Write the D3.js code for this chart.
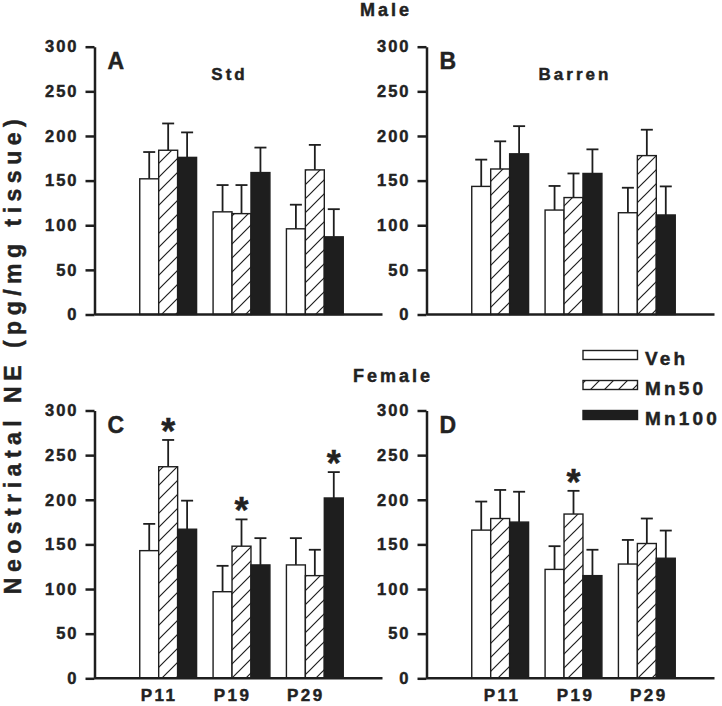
<!DOCTYPE html>
<html><head><meta charset="utf-8">
<script src="https://cdn.jsdelivr.net/npm/d3@7"></script>
<style>
body{margin:0;background:#fff}
svg{display:block}
text{font-family:"Liberation Sans",Arial,Helvetica,sans-serif;font-weight:bold;fill:#222;stroke:#222;stroke-width:0.45px}
</style>
</head><body><svg id="c" width="722" height="706"></svg>
<script>
// ---------- data ----------
const categories = ["P11", "P19", "P29"];
const series = ["Veh", "Mn50", "Mn100"];
const yTicks = [0, 50, 100, 150, 200, 250, 300];
// values ordered P11(Veh,Mn50,Mn100), P19(...), P29(...)
const meanA = [152, 184, 176, 115, 113, 159, 96, 162, 87];
const errA  = [30, 30, 28, 30, 32, 28, 27, 28, 31];
const meanB = [143.5, 163, 180, 117, 131, 158, 114, 178, 111.5];
const errB  = [30, 31, 31, 27, 27, 27, 28, 29, 32];
const meanC = [143, 237, 167, 97, 148, 127, 127, 115, 202];
const errC  = [30, 30, 32, 29, 30, 30, 30, 29, 29];
const meanD = [166, 179, 175, 122, 184, 115, 128, 151, 134.5];
const errD  = [32, 32, 34, 26, 26, 29, 27, 28, 31];
const stars = [
  {panel: "C", category: "P11", series: "Mn50"},
  {panel: "C", category: "P19", series: "Mn50"},
  {panel: "C", category: "P29", series: "Mn100"},
  {panel: "D", category: "P19", series: "Mn50"}
];
const panelLetters = ["A", "B", "C", "D"];
const subtitles = ["Std", "Barren", "", ""];
const sexTitles = ["Male", "Female"];
const yLabel = "Neostriatal NE (pg/mg tissue)";

// ---------- layout ----------
const svg = d3.select("#c");
const ink = "#1e1e1e";
const defs = svg.append("defs");
const pat = defs.append("pattern").attr("id", "hatch").attr("patternUnits", "userSpaceOnUse")
  .attr("width", 14).attr("height", 14);
pat.append("rect").attr("width", 14).attr("height", 14).attr("fill", "#fff");
pat.append("path").attr("d", "M-3.5,3.5L3.5,-3.5M0,14L14,0M10.5,17.5L17.5,10.5")
  .attr("stroke", ink).attr("stroke-width", 1.2);

const fills = {Veh: "#fff", Mn50: "url(#hatch)", Mn100: ink};
const panels = [
  {id: "A", x0: 94.5, y0: 314.5, mean: meanA, err: errA, subX: 229.5, labels: false, labDx: 0},
  {id: "B", x0: 426.5, y0: 314.5, mean: meanB, err: errB, subX: 575, labels: false, labDx: 0},
  {id: "C", x0: 94.5, y0: 678.3, mean: meanC, err: errC, subX: 0, labels: true, labDx: -9},
  {id: "D", x0: 426.5, y0: 678.3, mean: meanD, err: errD, subX: 0, labels: true, labDx: 2}
];
const plotW = 288, plotH = 267.8;

panels.forEach((p, k) => {
  const g = svg.append("g");
  const y = d3.scaleLinear().domain([0, 300]).range([p.y0, p.y0 - plotH]);
  const x = d3.scaleBand().domain(categories).range([p.x0 + 37, p.x0 + 257])
    .paddingInner(0.225).paddingOuter(0.1125);
  const xs = d3.scaleBand().domain(series).range([0, x.bandwidth()]);

  const data = [];
  categories.forEach((c, i) => series.forEach((s, j) => {
    data.push({c, s, v: p.mean[i * 3 + j], e: p.err[i * 3 + j]});
  }));
  // error bars (upward only)
  const eb = g.append("g").attr("stroke", ink).attr("stroke-width", 1.8);
  data.forEach(d => {
    const cx = x(d.c) + xs(d.s) + xs.bandwidth() / 2;
    eb.append("line").attr("x1", cx).attr("x2", cx).attr("y1", y(d.v)).attr("y2", y(d.v + d.e));
    eb.append("line").attr("x1", cx - 6).attr("x2", cx + 6).attr("y1", y(d.v + d.e)).attr("y2", y(d.v + d.e));
  });
  g.append("g").selectAll("rect").data(data).join("rect")
    .attr("x", d => x(d.c) + xs(d.s))
    .attr("y", d => y(d.v))
    .attr("width", xs.bandwidth())
    .attr("height", d => y(0) - y(d.v))
    .attr("fill", d => fills[d.s])
    .attr("stroke", ink).attr("stroke-width", 1.4);

  // stars
  stars.filter(s => s.panel === p.id).forEach(s => {
    const d = data.find(q => q.c === s.category && q.s === s.series);
    g.append("text").attr("x", x(d.c) + xs(d.s) + xs.bandwidth() / 2)
      .attr("y", y(d.v + d.e) + 4).attr("text-anchor", "middle")
      .style("font-size", "36px").text("*");
  });

  // y axis
  const ax = g.append("g").attr("transform", `translate(${p.x0},0)`)
    .call(d3.axisLeft(y).tickValues(yTicks).tickSize(9).tickSizeOuter(0).tickPadding(7));
  ax.selectAll("path,line").attr("stroke", ink).attr("stroke-width", 2.5);
  ax.selectAll("text").style("font-size", "16.5px").style("letter-spacing", "2px")
    .style("font-family", null).attr("fill", "#222");
  // x axis line
  g.append("line").attr("x1", p.x0).attr("x2", p.x0 + plotW).attr("y1", p.y0).attr("y2", p.y0)
    .attr("stroke", ink).attr("stroke-width", 2.5);

  if (p.labels) {
    g.append("g").selectAll("text").data(categories).join("text")
      .attr("x", c => x(c) + x.bandwidth() / 2 + p.labDx)
      .attr("y", p.y0 + 23).attr("text-anchor", "middle")
      .style("font-size", "17px").style("letter-spacing", "2.5px").text(c => c);
  }
  // panel letter
  g.append("text").attr("x", p.x0 + 13).attr("y", p.y0 - plotH + 22)
    .style("font-size", "23px").text(panelLetters[k]);
  if (subtitles[k]) {
    g.append("text").attr("x", p.subX).attr("y", p.y0 - 234.5).attr("text-anchor", "middle")
      .style("font-size", "17px").style("letter-spacing", "3px").text(subtitles[k]);
  }
});

// sex titles
svg.append("text").attr("x", 386).attr("y", 15.5).attr("text-anchor", "middle")
  .style("font-size", "18px").style("letter-spacing", "3px").text(sexTitles[0]);
svg.append("text").attr("x", 393).attr("y", 381.5).attr("text-anchor", "middle")
  .style("font-size", "18px").style("letter-spacing", "3px").text(sexTitles[1]);

// y label
svg.append("text").attr("transform", "translate(21,354) rotate(-90)").attr("text-anchor", "middle")
  .style("font-size", "23px").style("letter-spacing", "5.5px").text(yLabel);

// legend
const lg = svg.append("g");
series.forEach((s, i) => {
  lg.append("rect").attr("x", 583).attr("y", 350.5 + i * 30).attr("width", 54.5).attr("height", 9)
    .attr("fill", fills[s]).attr("stroke", ink).attr("stroke-width", 1.4);
  lg.append("text").attr("x", 645).attr("y", 365 + i * 30)
    .style("font-size", "19px").style("letter-spacing", "3.2px").text(s);
});
</script>
</body></html>
